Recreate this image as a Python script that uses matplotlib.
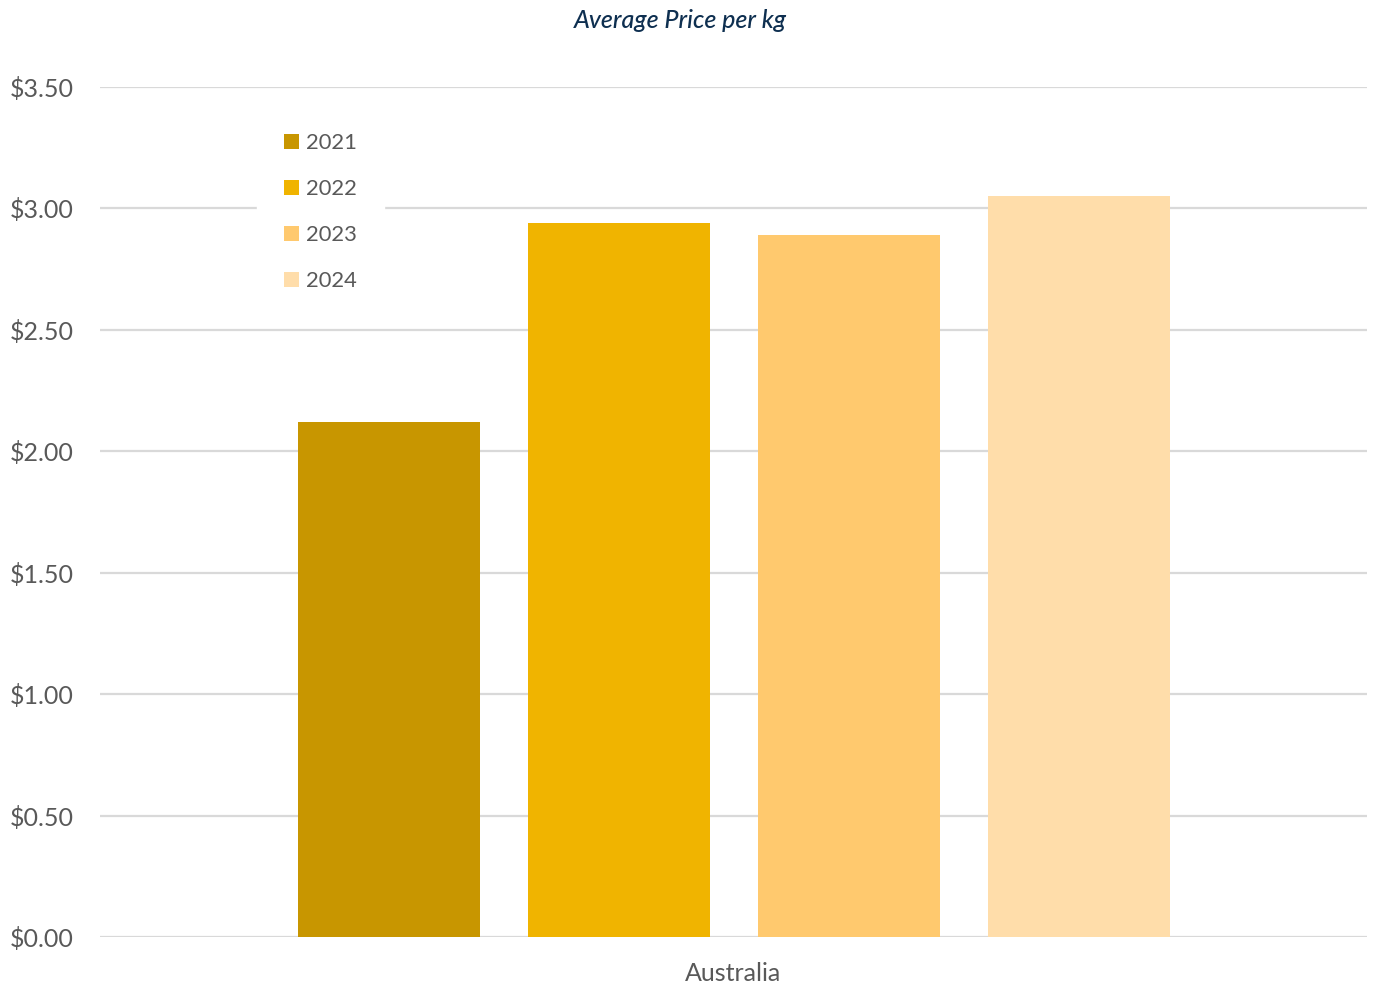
import numpy as np
import matplotlib.pyplot as plt
from matplotlib.ticker import FuncFormatter

# data
years = ["2021", "2022", "2023", "2024"]
prices = [2.12, 2.94, 2.89, 3.05]
colors = ["#C89600", "#F0B400", "#FFC96E", "#FFDDAA"]
category = ["Australia"]

W, H = 1375, 990
fig = plt.figure(figsize=(W / 100, H / 100), dpi=100)
ax = fig.add_axes([100 / W, 1 - 937 / H, (1367 - 100) / W, (937 - 87) / H])

plt.rcParams['font.family'] = ['Lato', 'DejaVu Sans']

bw = 182 / 1267
step = 230 / 1267
offsets = (np.arange(len(years)) - (len(years) - 1) / 2) * step
for i in range(len(years)):
    ax.bar(0 + offsets[i], prices[i], width=bw, color=colors[i], label=years[i], zorder=3)

ax.set_xlim(-0.5, 0.5)
ax.set_ylim(0, 3.5)
ax.set_yticks(np.arange(0, 3.51, 0.5))
ax.yaxis.set_major_formatter(FuncFormatter(lambda v, p: "${:.2f}".format(v)))
ax.set_xticks([0])
ax.set_xticklabels(category)

ax.grid(axis='y', color='#D9D9D9', linewidth=1.6, zorder=0)
ax.set_axisbelow(True)
for s in ax.spines.values():
    s.set_visible(False)
ax.tick_params(axis='y', length=0, pad=19, labelsize=18, labelcolor='#595959')
ax.tick_params(axis='x', length=0, pad=18, labelsize=18, labelcolor='#595959')
for t in ax.get_yticklabels() + ax.get_xticklabels():
    t.set_family(['Lato', 'DejaVu Sans'])

leg = fig.legend(loc='upper left', bbox_to_anchor=(257 / W, 1 - 106 / H), frameon=True,
                 fontsize=15.8, handlelength=0.65, handleheight=0.65, handletextpad=0.32,
                 labelspacing=1.18, borderpad=1.25, borderaxespad=0, fancybox=False)
leg.get_frame().set_facecolor('white')
leg.get_frame().set_edgecolor('white')
leg.get_frame().set_alpha(1)
for t in leg.get_texts():
    t.set_color('#595959')
    t.set_family(['Lato', 'DejaVu Sans'])

fig.text(0.5 - 7 / W, 1 - 21 / H, "Average Price per kg", ha='center', va='center',
         fontsize=18, style='italic', fontweight='medium', color='#0E2F50',
         family=['Lato', 'DejaVu Sans'])

fig.savefig("out.png", dpi=100)
